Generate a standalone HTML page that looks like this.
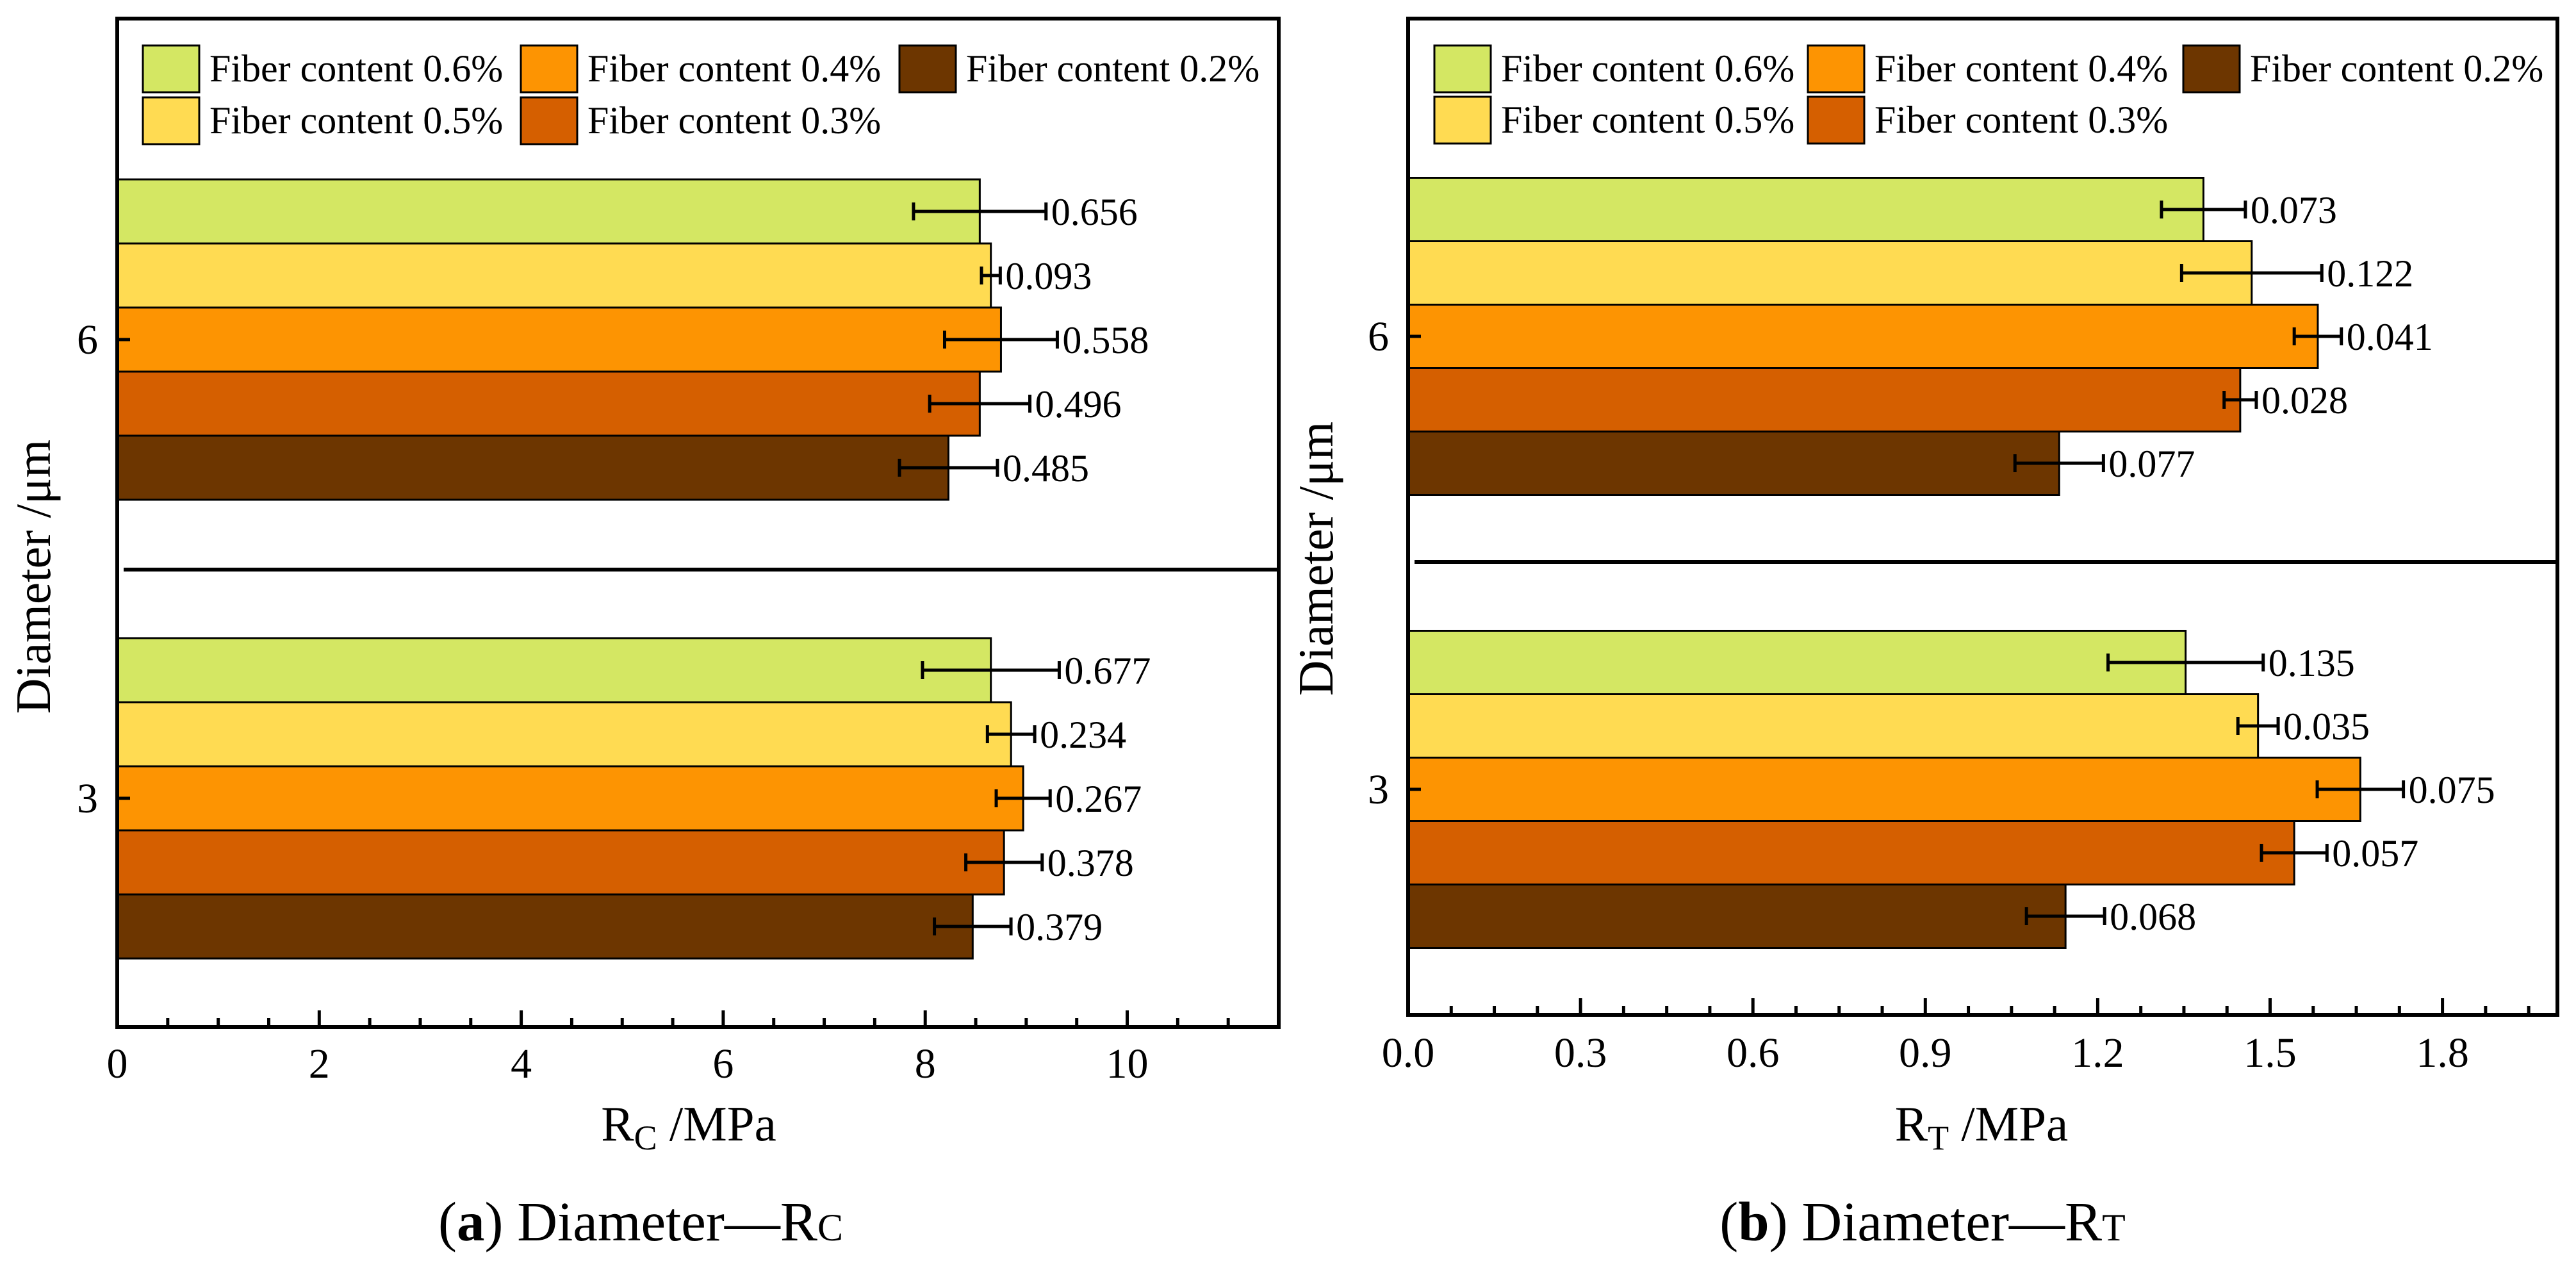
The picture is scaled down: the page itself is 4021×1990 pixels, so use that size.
<!DOCTYPE html>
<html><head><meta charset="utf-8"><style>
html,body{margin:0;padding:0;background:#fff}
svg, svg text{font-family:"Liberation Serif","DejaVu Serif",serif}
</style></head><body>
<svg id="chart" width="4021" height="1985" viewBox="0 0 4021 1985" font-family="Liberation Serif, DejaVu Serif, serif" xmlns="http://www.w3.org/2000/svg"></svg>
<script>
const seriesNames = ["Fiber content 0.6%","Fiber content 0.5%","Fiber content 0.4%","Fiber content 0.3%","Fiber content 0.2%"];
const colors = ["#d4e763","#ffdb52","#fd9402","#d55f00","#6d3600"];
const categories = [6, 3];
const rcValues = [[8.54,8.65,8.75,8.54,8.23],[8.65,8.85,8.97,8.78,8.47]];
const rcErrors = [[0.656,0.093,0.558,0.496,0.485],[0.677,0.234,0.267,0.378,0.379]];
const rcLabels = [["0.656","0.093","0.558","0.496","0.485"],["0.677","0.234","0.267","0.378","0.379"]];
const rtValues = [[1.384,1.468,1.583,1.448,1.133],[1.353,1.479,1.657,1.542,1.144]];
const rtErrors = [[0.073,0.122,0.041,0.028,0.077],[0.135,0.035,0.075,0.057,0.068]];
const rtLabels = [["0.073","0.122","0.041","0.028","0.077"],["0.135","0.035","0.075","0.057","0.068"]];
const rcTicks = [0,2,4,6,8,10];
const rtTicks = [0,0.3,0.6,0.9,1.2,1.5,1.8];
const rtTickLabels = ["0.0","0.3","0.6","0.9","1.2","1.5","1.8"];

const NS="http://www.w3.org/2000/svg";
const FF="Liberation Serif, DejaVu Serif, serif";
const svg=document.getElementById('chart');
function mk(tag,attrs,parent){const e=document.createElementNS(NS,tag);for(const k in attrs)e.setAttribute(k,attrs[k]);if(tag==='text')e.setAttribute('font-family',FF);(parent||svg).appendChild(e);return e;}

function panel(cfg){
  const g=mk('g',{});
  
  
  const X=v=>cfg.x0+(v-cfg.xmin)/(cfg.xmax-cfg.xmin)*(cfg.x1-cfg.x0);
  const Y=c=>cfg.y6+(6-c)/3*(cfg.y3-cfg.y6);
  categories.forEach((cat,ci)=>{
    const cy=Y(cat);
    seriesNames.forEach((s,si)=>{
      const top=cy-2.5*cfg.bh+si*cfg.bh;
      const v=cfg.values[ci][si], e=cfg.errors[ci][si];
      const r=mk('rect',{x:X(0),y:top,width:X(v)-X(0),height:cfg.bh,fill:colors[si],stroke:'#000','stroke-width':3},g);
      
      
      const my=top+cfg.bh/2;
      const eg=mk('g',{stroke:'#000','stroke-width':5},g);
      
      
      mk('line',{x1:X(v-e),x2:X(v+e),y1:my,y2:my},eg);
      mk('line',{x1:X(v-e),x2:X(v-e),y1:my-14,y2:my+14},eg);
      mk('line',{x1:X(v+e),x2:X(v+e),y1:my-14,y2:my+14},eg);
      const t=mk('text',{x:X(v+e)+8,y:my+21,'font-size':60},g);
      t.textContent=cfg.labels[ci][si];
      
      
    });
    const tk=mk('line',{x1:cfg.x0,x2:cfg.x0+20,y1:cy,y2:cy,stroke:'#000','stroke-width':5},g);
    
    
    const tl=mk('text',{x:cfg.x0-30,y:cy+22,'font-size':66,'text-anchor':'end'},g);
    tl.textContent=String(cat);
    
    
  });
  const dv=mk('line',{x1:cfg.x0+10,x2:cfg.x1,y1:cfg.ydiv,y2:cfg.ydiv,stroke:'#000','stroke-width':6},g);
  
  
  const fr=mk('rect',{x:cfg.x0,y:cfg.y0,width:cfg.x1-cfg.x0,height:cfg.y1-cfg.y0,fill:'none',stroke:'#000','stroke-width':6},g);
  
  
  for(let v=cfg.xmin; v<=cfg.xmax+1e-9; v+=cfg.minor){
    const isMajor=Math.abs(v/cfg.major-Math.round(v/cfg.major))<1e-6;
    const ln=mk('line',{x1:X(v),x2:X(v),y1:cfg.y1,y2:cfg.y1-(isMajor?26:14),stroke:'#000','stroke-width':5},g);
    
    
  }
  cfg.ticks.forEach((v,i)=>{
    const t=mk('text',{x:X(v),y:cfg.tickY,'font-size':66,'text-anchor':'middle'},g);
    t.textContent=cfg.tickLabels[i];
    
    
  });
  seriesNames.forEach((s,si)=>{
    const col=[0,0,1,1,2][si], row=[0,1,0,1,0][si];
    const lg=mk('g',{},g);
    
    
    const sx=cfg.legX[col], sy=cfg.legY[row];
    mk('rect',{x:sx,y:sy,width:88,height:73,fill:colors[si],stroke:'#000','stroke-width':3},lg);
    const t=mk('text',{x:sx+104,y:sy+56,'font-size':60},lg);
    t.textContent=s;
  });
  const at=mk('text',{x:cfg.titleX,y:1780,'font-size':77,'text-anchor':'middle'},g);
  at.innerHTML='R<tspan font-size="54" dy="14">'+cfg.sub+'</tspan><tspan dy="-14"> /MPa</tspan>';
  
  
  const yt=mk('text',{x:0,y:0,'font-size':77,'text-anchor':'middle',transform:'translate('+cfg.yTitleX+','+cfg.yTitleY+') rotate(-90)'},g);
  yt.textContent='Diameter /μm';
  
  
  const cp=mk('text',{x:cfg.capX,y:1936,'font-size':87,'text-anchor':'middle'},g);
  cp.innerHTML='(<tspan font-weight="bold">'+cfg.letter+'</tspan>) Diameter—R<tspan font-size="60">'+cfg.sub+'</tspan>';
  
  
}

panel({name:'panel-rc',x0:183,x1:1996,xmin:0,xmax:11.5,y0:29,y1:1603,y6:530,y3:1246,bh:100,ydiv:889,
  values:rcValues,errors:rcErrors,labels:rcLabels,ticks:rcTicks,tickLabels:rcTicks.map(String),major:2,minor:0.5,tickY:1682,
  legX:[223,813,1404],legY:[71,152],titleX:1075,yTitleX:78,yTitleY:900,capX:1000,letter:'a',sub:'C'});
panel({name:'panel-rt',x0:2198,x1:3992,xmin:0,xmax:2.0,y0:29,y1:1584,y6:525,y3:1232,bh:99,ydiv:877,
  values:rtValues,errors:rtErrors,labels:rtLabels,ticks:rtTicks,tickLabels:rtTickLabels,major:0.3,minor:0.075,tickY:1665,
  legX:[2239,2822,3408],legY:[71,151],titleX:3093,yTitleX:2080,yTitleY:872,capX:3001,letter:'b',sub:'T'});
</script>
</body></html>
